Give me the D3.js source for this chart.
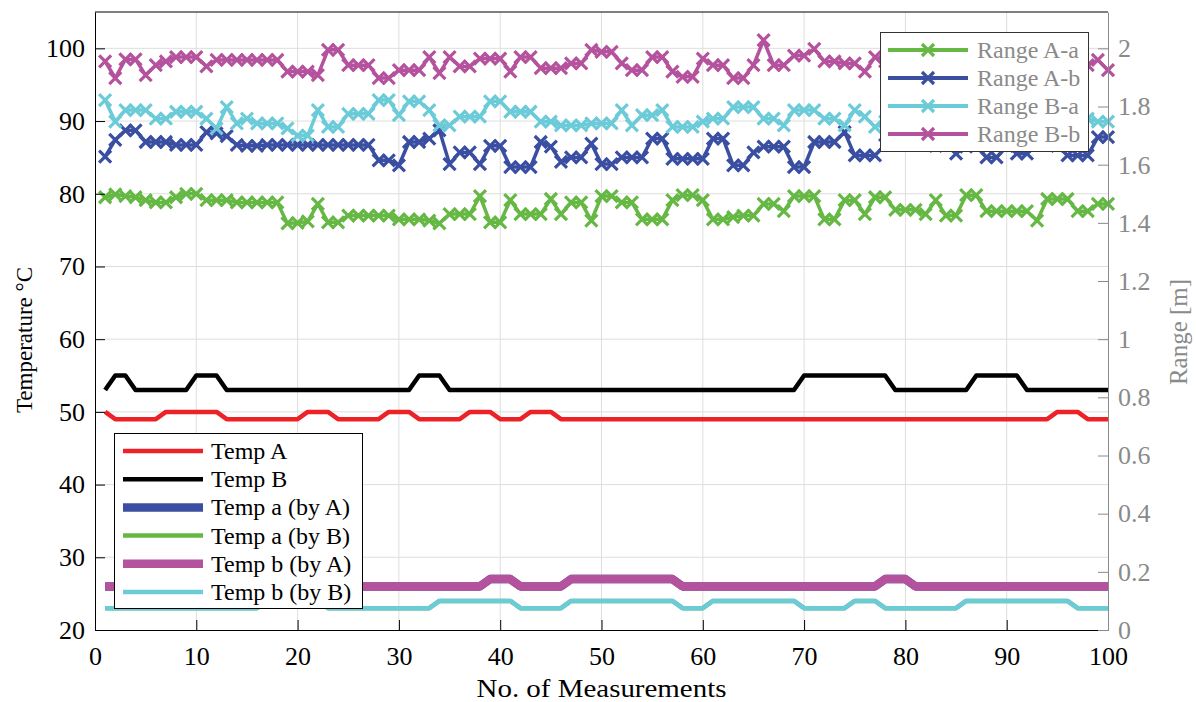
<!DOCTYPE html>
<html>
<head>
<meta charset="utf-8">
<script src="https://cdn.jsdelivr.net/npm/d3@7"></script>
<style>
  body { margin: 0; background: #fff; }
  svg { display: block; }
</style>
</head>
<body>
<svg id="chart" width="1196" height="702"></svg>
<script>
// Measurement index 1..100
const measurements = d3.range(1, 101);

// Temperatures [°C] (left axis)
const tempA = [
  50,49,49,49,49,49,50,50,50,50, 50,50,49,49,49,49,49,49,49,49,
  50,50,50,49,49,49,49,49,50,50, 50,49,49,49,49,49,50,50,50,49,
  49,49,50,50,50,49,49,49,49,49, 49,49,49,49,49,49,49,49,49,49,
  49,49,49,49,49,49,49,49,49,49, 49,49,49,49,49,49,49,49,49,49,
  49,49,49,49,49,49,49,49,49,49, 49,49,49,49,50,50,50,49,49,49
];
const tempB = [
  53,55,55,53,53,53,53,53,53,55, 55,55,53,53,53,53,53,53,53,53,
  53,53,53,53,53,53,53,53,53,53, 53,55,55,55,53,53,53,53,53,53,
  53,53,53,53,53,53,53,53,53,53, 53,53,53,53,53,53,53,53,53,53,
  53,53,53,53,53,53,53,53,53,55, 55,55,55,55,55,55,55,55,53,53,
  53,53,53,53,53,53,55,55,55,55, 55,53,53,53,53,53,53,53,53,53
];
const tempAbyA = [
  26,26,26,26,26,26,26,26,26,26, 26,26,26,26,26,26,26,26,26,26,
  26,26,26,26,26,26,26,26,26,26, 26,26,26,26,26,26,26,26,27,27,
  27,26,26,26,26,26,27,27,27,27, 27,27,27,27,27,27,27,26,26,26,
  26,26,26,26,26,26,26,26,26,26, 26,26,26,26,26,26,26,27,27,27,
  26,26,26,26,26,26,26,26,26,26, 26,26,26,26,26,26,26,26,26,26
];
const tempAbyB = [
  23,23,23,23,23,23,23,23,23,23, 23,23,23,23,23,23,24,24,24,24,
  24,24,23,23,23,23,23,23,23,23, 23,23,23,24,24,24,24,24,24,24,
  24,23,23,23,23,23,24,24,24,24, 24,24,24,24,24,24,24,23,23,23,
  24,24,24,24,24,24,24,24,24,23, 23,23,23,23,24,24,24,23,23,23,
  23,23,23,23,23,24,24,24,24,24, 24,24,24,24,24,24,23,23,23,23
];
const tempBbyA = [
  26,26,26,26,26,26,26,26,26,26, 26,26,26,26,26,26,26,26,26,26,
  26,26,26,26,26,26,26,26,26,26, 26,26,26,26,26,26,26,26,27,27,
  27,26,26,26,26,26,27,27,27,27, 27,27,27,27,27,27,27,26,26,26,
  26,26,26,26,26,26,26,26,26,26, 26,26,26,26,26,26,26,27,27,27,
  26,26,26,26,26,26,26,26,26,26, 26,26,26,26,26,26,26,26,26,26
];
const tempBbyB = [
  23,23,23,23,23,23,23,23,23,23, 23,23,23,23,23,23,24,24,24,24,
  24,24,23,23,23,23,23,23,23,23, 23,23,23,24,24,24,24,24,24,24,
  24,23,23,23,23,23,24,24,24,24, 24,24,24,24,24,24,24,23,23,23,
  24,24,24,24,24,24,24,24,24,23, 23,23,23,23,24,24,24,23,23,23,
  23,23,23,23,23,24,24,24,24,24, 24,24,24,24,24,24,23,23,23,23
];

// Ranges [m] (right axis)
const rangeAa = [
  1.488,1.498,1.492,1.488,1.478,1.470,1.470,1.488,1.500,1.500,
  1.478,1.478,1.478,1.470,1.470,1.470,1.470,1.470,1.398,1.400,
  1.405,1.465,1.402,1.402,1.425,1.425,1.425,1.425,1.425,1.412,
  1.412,1.412,1.408,1.398,1.430,1.430,1.430,1.492,1.402,1.402,
  1.478,1.430,1.430,1.430,1.482,1.430,1.470,1.470,1.408,1.492,
  1.492,1.470,1.470,1.412,1.412,1.412,1.478,1.495,1.495,1.478,
  1.412,1.412,1.420,1.425,1.425,1.465,1.465,1.440,1.492,1.492,
  1.492,1.412,1.412,1.478,1.478,1.430,1.488,1.488,1.445,1.445,
  1.445,1.430,1.478,1.425,1.425,1.495,1.495,1.440,1.440,1.440,
  1.440,1.440,1.408,1.482,1.482,1.482,1.440,1.440,1.465,1.465
];
const rangeAb = [
  1.628,1.685,1.718,1.718,1.678,1.678,1.678,1.668,1.668,1.668,
  1.712,1.708,1.698,1.668,1.665,1.665,1.668,1.668,1.668,1.668,
  1.668,1.668,1.668,1.668,1.668,1.668,1.668,1.615,1.615,1.598,
  1.678,1.678,1.690,1.718,1.602,1.642,1.642,1.602,1.665,1.665,
  1.592,1.592,1.592,1.678,1.662,1.610,1.625,1.625,1.672,1.602,
  1.602,1.625,1.625,1.625,1.690,1.690,1.620,1.620,1.620,1.620,
  1.690,1.690,1.598,1.598,1.642,1.662,1.662,1.662,1.592,1.592,
  1.678,1.678,1.678,1.712,1.632,1.632,1.632,1.668,1.672,1.678,
  1.668,1.672,1.665,1.668,1.638,1.662,1.668,1.625,1.625,1.665,
  1.638,1.638,1.668,1.672,1.665,1.632,1.632,1.632,1.695,1.695
];
const rangeBa = [
  1.822,1.748,1.788,1.788,1.788,1.758,1.758,1.782,1.782,1.782,
  1.758,1.725,1.798,1.742,1.758,1.742,1.742,1.742,1.725,1.700,
  1.700,1.788,1.730,1.730,1.775,1.775,1.775,1.822,1.822,1.770,
  1.818,1.818,1.788,1.735,1.735,1.765,1.765,1.765,1.818,1.818,
  1.782,1.782,1.782,1.748,1.748,1.735,1.735,1.735,1.742,1.742,
  1.742,1.788,1.735,1.770,1.770,1.788,1.730,1.730,1.730,1.748,
  1.758,1.758,1.798,1.798,1.798,1.758,1.758,1.735,1.788,1.788,
  1.788,1.758,1.758,1.735,1.788,1.765,1.730,1.748,1.765,1.775,
  1.758,1.742,1.765,1.788,1.758,1.748,1.770,1.782,1.758,1.742,
  1.758,1.775,1.748,1.765,1.782,1.758,1.742,1.758,1.748,1.748
];
const rangeBb = [
  1.955,1.898,1.962,1.962,1.908,1.942,1.955,1.970,1.970,1.970,
  1.938,1.960,1.960,1.960,1.960,1.960,1.960,1.960,1.920,1.920,
  1.920,1.908,1.995,1.995,1.942,1.942,1.942,1.898,1.898,1.925,
  1.925,1.925,1.970,1.915,1.970,1.938,1.938,1.965,1.965,1.965,
  1.920,1.970,1.970,1.932,1.932,1.932,1.948,1.948,1.995,1.988,
  1.988,1.948,1.925,1.925,1.970,1.970,1.920,1.902,1.902,1.965,
  1.942,1.942,1.898,1.898,1.942,2.028,1.942,1.942,1.975,1.975,
  1.998,1.955,1.955,1.948,1.948,1.920,1.970,1.955,1.942,1.962,
  1.970,1.948,1.932,1.960,1.970,1.942,1.925,1.955,1.965,1.948,
  1.938,1.960,1.970,1.948,1.932,1.955,1.965,1.942,1.960,1.925
];

// Tick values
const xTicks = [0, 10, 20, 30, 40, 50, 60, 70, 80, 90, 100];
const tempTicks = [20, 30, 40, 50, 60, 70, 80, 90, 100];
const rangeTicks = [0, 0.2, 0.4, 0.6, 0.8, 1, 1.2, 1.4, 1.6, 1.8, 2];

const COLORS = {
  red: "#ec2227", black: "#000000", blue: "#3a4ea2",
  green: "#66b844", magenta: "#b5529e", cyan: "#6ccbd8"
};

const tempSeries = [
  { name: "Temp A",        values: tempA,    color: COLORS.red,     width: 4.5 },
  { name: "Temp B",        values: tempB,    color: COLORS.black,   width: 4.5 },
  { name: "Temp a (by A)", values: tempAbyA, color: COLORS.blue,    width: 8.5 },
  { name: "Temp a (by B)", values: tempAbyB, color: COLORS.green,   width: 4.5 },
  { name: "Temp b (by A)", values: tempBbyA, color: COLORS.magenta, width: 8.5 },
  { name: "Temp b (by B)", values: tempBbyB, color: COLORS.cyan,    width: 4.5 }
];
const rangeSeries = [
  { name: "Range A-a", values: rangeAa, color: COLORS.green },
  { name: "Range A-b", values: rangeAb, color: COLORS.blue },
  { name: "Range B-a", values: rangeBa, color: COLORS.cyan },
  { name: "Range B-b", values: rangeBb, color: COLORS.magenta }
];

const svg = d3.select("#chart");
const plot = { left: 95, right: 1108, top: 12, bottom: 630 };

const x = d3.scaleLinear().domain([0, 100]).range([plot.left, plot.right]);
const yT = d3.scaleLinear().domain([20, 105]).range([plot.bottom, plot.top]);
const yR = d3.scaleLinear().domain([0, 2.125]).range([plot.bottom, plot.top]);

const tickFont = "'Liberation Serif', 'Times New Roman', serif";

// Grid
const grid = svg.append("g").attr("stroke", "#dedede").attr("stroke-width", 1);
grid.selectAll("line.v").data(xTicks.slice(1, -1)).join("line")
  .attr("x1", d => x(d)).attr("x2", d => x(d))
  .attr("y1", plot.top).attr("y2", plot.bottom);
grid.selectAll("line.h").data(tempTicks.slice(1)).join("line")
  .attr("x1", plot.left).attr("x2", plot.right)
  .attr("y1", d => yT(d)).attr("y2", d => yT(d));

// Temperature lines
const lineT = d3.line().x((d, i) => x(measurements[i])).y(d => yT(d));
svg.append("g").selectAll("path").data(tempSeries).join("path")
  .attr("d", s => lineT(s.values))
  .attr("fill", "none")
  .attr("stroke", s => s.color)
  .attr("stroke-width", s => s.width)
  .attr("stroke-linejoin", "round");

// Range lines with cross markers
const lineR = d3.line().x((d, i) => x(measurements[i])).y(d => yR(d));
const cross = "M-6,-6L6,6M-6,6L6,-6";
const rg = svg.append("g");
rangeSeries.forEach(s => {
  const g = rg.append("g");
  g.append("path")
    .attr("d", lineR(s.values))
    .attr("fill", "none")
    .attr("stroke", s.color)
    .attr("stroke-width", 3.5)
    .attr("stroke-linejoin", "round");
  g.selectAll("path.m").data(s.values).join("path")
    .attr("class", "m")
    .attr("d", cross)
    .attr("transform", (d, i) => `translate(${x(measurements[i])},${yR(d)})`)
    .attr("stroke", s.color)
    .attr("stroke-width", 3.2)
    .attr("fill", "none");
});

// Axes
function styleAxis(g, color) {
  g.select(".domain").attr("stroke", color);
  g.selectAll(".tick line").attr("stroke", color);
  g.selectAll(".tick text")
    .attr("fill", color)
    .style("font-family", tickFont)
    .style("font-size", "26px");
}

const axB = svg.append("g")
  .attr("transform", `translate(0,${plot.bottom})`)
  .call(d3.axisBottom(x).tickValues(xTicks).tickSizeInner(-10).tickSizeOuter(0).tickPadding(17));
styleAxis(axB, "#000");

const axL = svg.append("g")
  .attr("transform", `translate(${plot.left},0)`)
  .call(d3.axisLeft(yT).tickValues(tempTicks).tickSizeInner(-10).tickSizeOuter(0).tickPadding(10));
styleAxis(axL, "#000");

const axR = svg.append("g")
  .attr("transform", `translate(${plot.right},0)`)
  .call(d3.axisRight(yR).tickValues(rangeTicks).tickSizeInner(-10).tickSizeOuter(0).tickPadding(10)
    .tickFormat(d => String(+d.toFixed(1))));
styleAxis(axR, "#8a8a8a");

// Top border
svg.append("line")
  .attr("x1", plot.left).attr("x2", plot.right)
  .attr("y1", plot.top).attr("y2", plot.top)
  .attr("stroke", "#000");

// Axis titles
svg.append("text")
  .attr("x", (plot.left + plot.right) / 2).attr("y", 697)
  .attr("text-anchor", "middle")
  .attr("textLength", 250).attr("lengthAdjust", "spacingAndGlyphs")
  .style("font-family", tickFont).style("font-size", "26px")
  .text("No. of Measurements");

svg.append("text")
  .attr("transform", "translate(32,340) rotate(-90)")
  .attr("text-anchor", "middle")
  .style("font-family", tickFont).style("font-size", "23px")
  .text("Temperature °C");

svg.append("text")
  .attr("transform", "translate(1187,332) rotate(-90)")
  .attr("text-anchor", "middle")
  .attr("fill", "#8a8a8a")
  .style("font-family", tickFont).style("font-size", "25px")
  .text("Range [m]");

// Range legend (top right)
const lr = svg.append("g");
lr.append("rect")
  .attr("x", 880.5).attr("y", 32.5).attr("width", 208).attr("height", 119)
  .attr("fill", "#fff").attr("stroke", "#333").attr("stroke-width", 1);
rangeSeries.forEach((s, k) => {
  const yy = 50 + k * 28;
  lr.append("line").attr("x1", 888).attr("x2", 968).attr("y1", yy).attr("y2", yy)
    .attr("stroke", s.color).attr("stroke-width", 4);
  lr.append("path").attr("d", cross).attr("transform", `translate(928,${yy})`)
    .attr("stroke", s.color).attr("stroke-width", 3.2).attr("fill", "none");
  lr.append("text").attr("x", 977).attr("y", yy + 8)
    .attr("fill", "#8a8a8a")
    .style("font-family", tickFont).style("font-size", "24px")
    .text(s.name);
});

// Temperature legend (bottom left)
const lt = svg.append("g");
lt.append("rect")
  .attr("x", 114.5).attr("y", 433.5).attr("width", 248).attr("height", 175)
  .attr("fill", "#fff").attr("stroke", "#000").attr("stroke-width", 1);
tempSeries.forEach((s, k) => {
  const yy = 451 + k * 28.2;
  lt.append("line").attr("x1", 123).attr("x2", 203).attr("y1", yy).attr("y2", yy)
    .attr("stroke", s.color).attr("stroke-width", s.width);
  lt.append("text").attr("x", 211).attr("y", yy + 8)
    .attr("fill", "#000")
    .style("font-family", tickFont).style("font-size", "24px")
    .text(s.name);
});
</script>
</body>
</html>
